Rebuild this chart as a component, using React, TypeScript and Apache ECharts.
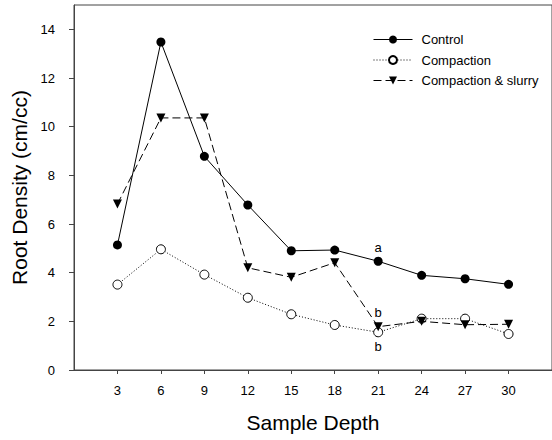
import React, { useEffect, useRef } from "react";
import * as echarts from "echarts";

const depths = [3, 6, 9, 12, 15, 18, 21, 24, 27, 30];
const control = [5.14, 13.48, 8.78, 6.78, 4.9, 4.93, 4.47, 3.89, 3.75, 3.52];
const compaction = [3.51, 4.96, 3.92, 2.97, 2.29, 1.85, 1.55, 2.11, 2.11, 1.48];
const slurry = [6.82, 10.36, 10.36, 4.2, 3.81, 4.41, 1.78, 2.0, 1.86, 1.88];
const xTicks = [3, 6, 9, 12, 15, 18, 21, 24, 27, 30];
const yTicks = [0, 2, 4, 6, 8, 10, 12, 14];
const letters = { control: "a", slurry: "b", compaction: "b" };
const letterDepth = 21;

const FONT = "Arial, 'Liberation Sans', sans-serif";

function pairs(vals: number[], letter: string | null, pos: string, dist: number) {
  return depths.map((d, i) => {
    const item: any = { value: [d, vals[i]] };
    if (letter && d === letterDepth) {
      item.label = {
        show: true,
        formatter: letter,
        position: pos,
        distance: dist,
        color: "#000",
        textBorderWidth: 0,
        fontSize: 13,
        fontFamily: FONT,
      };
    }
    return item;
  });
}

export default function App() {
  const ref = useRef<HTMLDivElement>(null);
  useEffect(() => {
    if (!ref.current) return;
    const chart = echarts.init(ref.current, undefined, { renderer: "svg" });
    chart.setOption({
      animation: false,
      backgroundColor: "#fff",
      textStyle: { fontFamily: FONT },
      grid: {
        left: 74,
        right: -4,
        top: 5,
        bottom: 70,
        show: true,
        borderColor: "#444",
        borderWidth: 1,
        backgroundColor: "transparent",
      },
      legend: {
        orient: "vertical",
        left: 368,
        top: 28,
        itemWidth: 39,
        itemHeight: 10,
        itemGap: 7.5,
        lineStyle: { width: 1 },
        textStyle: { fontSize: 13, color: "#000", fontFamily: FONT, padding: [0, 0, 0, 4] },
        data: ["Control", "Compaction", "Compaction & slurry"],
      },
      xAxis: {
        type: "value",
        min: 0,
        max: 33,
        interval: 3,
        name: "Sample Depth",
        nameLocation: "middle",
        nameGap: 42,
        nameTextStyle: { fontSize: 21, color: "#000", fontFamily: FONT },
        axisLine: { show: true, lineStyle: { color: "#444", width: 1 } },
        axisTick: { show: true, length: 4, lineStyle: { color: "#444" }, customValues: xTicks },
        axisLabel: {
          fontSize: 13,
          color: "#000",
          margin: 14,
          fontFamily: FONT,
          customValues: xTicks,
          formatter: (v: number) => (xTicks.includes(v) ? String(v) : ""),
        },
        splitLine: { show: false },
      },
      yAxis: {
        type: "value",
        min: 0,
        max: 15,
        interval: 2,
        name: "Root Density (cm/cc)",
        nameLocation: "middle",
        nameGap: 35,
        nameTextStyle: { fontSize: 21, color: "#000", fontFamily: FONT },
        axisLine: { show: true, lineStyle: { color: "#444", width: 1 } },
        axisTick: { show: true, length: 5, lineStyle: { color: "#444" }, customValues: yTicks },
        axisLabel: {
          fontSize: 13,
          color: "#000",
          margin: 19,
          fontFamily: FONT,
          customValues: yTicks,
          formatter: (v: number) => (yTicks.includes(v) ? String(v) : ""),
        },
        splitLine: { show: false },
      },
      series: [
        {
          name: "Control",
          type: "line",
          data: pairs(control, letters.control, "top", 3),
          symbol: "circle",
          symbolSize: 9,
          itemStyle: { color: "#000" },
          lineStyle: { color: "#000", width: 1, type: "solid" },
          z: 3,
        },
        {
          name: "Compaction",
          type: "line",
          data: pairs(compaction, letters.compaction, "bottom", 3),
          symbol: "circle",
          symbolSize: 9,
          itemStyle: { color: "#fff", borderColor: "#000", borderWidth: 1 },
          lineStyle: { color: "#000", width: 1, type: [1, 2] },
          z: 2,
        },
        {
          name: "Compaction & slurry",
          type: "line",
          data: pairs(slurry, letters.slurry, "top", 3),
          symbol: "triangle",
          symbolRotate: 180,
          symbolSize: 9,
          itemStyle: { color: "#000" },
          lineStyle: { color: "#000", width: 1, type: [8, 4] },
          z: 4,
        },
      ],
    });
    return () => chart.dispose();
  }, []);
  return <div ref={ref} style={{ width: 552, height: 440, position: "absolute", left: 0, top: 0 }} />;
}
